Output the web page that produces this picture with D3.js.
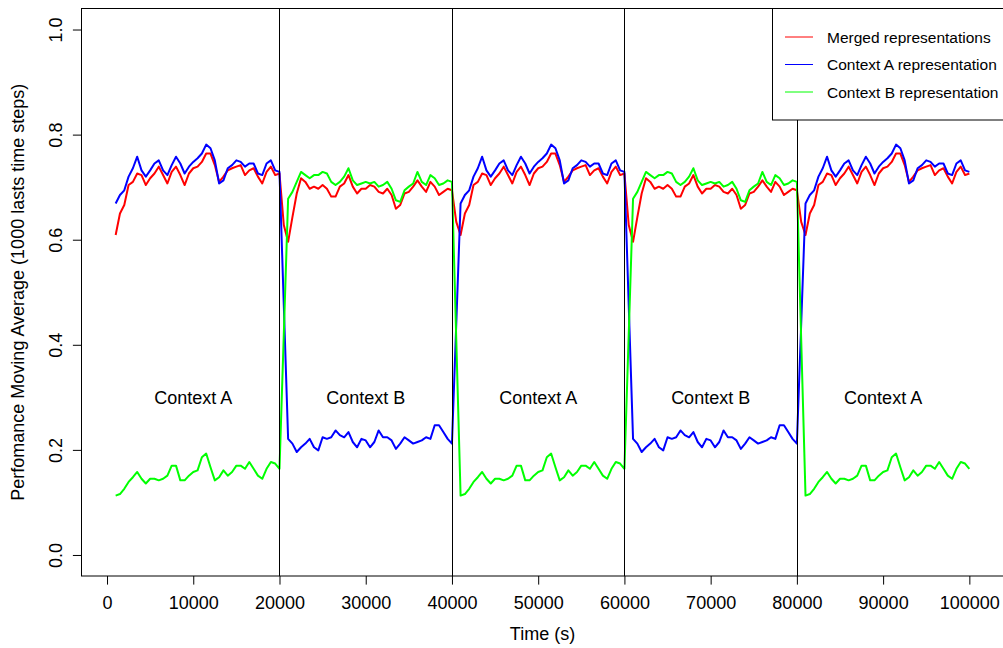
<!DOCTYPE html>
<html>
<head>
<meta charset="utf-8">
<script src="https://cdn.jsdelivr.net/npm/d3@7"></script>
<style>
  html, body { margin: 0; padding: 0; background: #fff; }
  svg { display: block; }
  text { font-family: "Liberation Sans", Arial, Helvetica, sans-serif; fill: #000; }
</style>
</head>
<body>
<svg id="chart" width="1003" height="648"></svg>
<script>
// ---------------- DATA ----------------
// Samples every 500 time steps. Segment arrays cover offsets 1000..20000 within a 20000-step context block.
const contextOrder = ["Context A", "Context B", "Context A", "Context B", "Context A"];
const contextStarts = [0, 20000, 40000, 60000, 80000];
const xTicks = [0, 10000, 20000, 30000, 40000, 50000, 60000, 70000, 80000, 90000, 100000];
const yTicks = [0.0, 0.2, 0.4, 0.6, 0.8, 1.0];
const seriesNames = ["Merged representations", "Context A representation", "Context B representation"];
const seriesColors = ["#ff0000", "#0000ff", "#00ff00"];

// Context A blocks
const mergedInA = [0.609,0.650,0.666,0.704,0.710,0.726,0.723,0.704,0.717,0.726,0.739,0.723,0.707,0.729,0.739,0.723,0.704,0.726,0.736,0.739,0.748,0.764,0.764,0.742,0.710,0.720,0.732,0.736,0.739,0.742,0.723,0.732,0.736,0.720,0.707,0.729,0.739,0.723,0.726];
const ctxAInA   = [0.669,0.685,0.694,0.720,0.736,0.758,0.732,0.720,0.732,0.745,0.751,0.732,0.723,0.742,0.758,0.745,0.726,0.739,0.748,0.755,0.764,0.781,0.774,0.751,0.707,0.713,0.736,0.742,0.751,0.748,0.739,0.745,0.745,0.726,0.723,0.745,0.751,0.732,0.729];
const ctxBInA   = [0.113,0.116,0.126,0.139,0.148,0.158,0.145,0.136,0.145,0.145,0.142,0.145,0.151,0.170,0.170,0.142,0.142,0.151,0.158,0.161,0.186,0.193,0.167,0.142,0.148,0.161,0.151,0.158,0.170,0.170,0.164,0.177,0.164,0.151,0.145,0.164,0.177,0.174,0.164];

// Context B blocks
const mergedInB = [0.596,0.643,0.688,0.717,0.710,0.697,0.701,0.697,0.704,0.697,0.682,0.682,0.701,0.707,0.723,0.701,0.688,0.697,0.697,0.704,0.701,0.691,0.688,0.697,0.685,0.659,0.666,0.688,0.691,0.701,0.713,0.701,0.691,0.710,0.701,0.685,0.691,0.697,0.694];
const ctxAInB   = [0.221,0.212,0.196,0.205,0.212,0.221,0.205,0.199,0.224,0.221,0.224,0.237,0.228,0.224,0.234,0.215,0.205,0.221,0.218,0.205,0.215,0.237,0.224,0.224,0.218,0.202,0.212,0.224,0.218,0.212,0.215,0.218,0.224,0.221,0.247,0.247,0.234,0.221,0.212];
const ctxBInB   = [0.678,0.691,0.710,0.729,0.723,0.717,0.723,0.723,0.729,0.726,0.710,0.704,0.710,0.720,0.736,0.713,0.704,0.707,0.710,0.707,0.710,0.701,0.704,0.710,0.697,0.675,0.672,0.694,0.701,0.707,0.729,0.710,0.704,0.723,0.717,0.704,0.707,0.713,0.710];

// values 500 steps after each context switch (at 20500, 40500, 60500, 80500)
const mergedSwitch = [0.628, 0.634, 0.628, 0.634];
const ctxASwitch   = [0.475, 0.440, 0.475, 0.440];
const ctxBSwitch   = [0.420, 0.410, 0.420, 0.410];

// --------------- BUILD SERIES ---------------
function buildSeries(inA, inB, sw) {
  const pts = [];
  contextOrder.forEach((ctx, k) => {
    const s = contextStarts[k];
    if (k > 0) pts.push([s + 500, sw[k - 1]]);
    const block = ctx === "Context A" ? inA : inB;
    block.forEach((v, i) => pts.push([s + 1000 + i * 500, v]));
  });
  return pts;
}
const series = [
  buildSeries(mergedInA, mergedInB, mergedSwitch),
  buildSeries(ctxAInA, ctxAInB, ctxASwitch),
  buildSeries(ctxBInA, ctxBInB, ctxBSwitch)
];

// --------------- DRAW ---------------
const svg = d3.select("#chart");
const L = 81.5, R = 1003.5, T = 8.5, B = 576;
const x = d3.scaleLinear().domain([-2960, 103960]).range([L, R]);
const y = d3.scaleLinear().domain([-0.04, 1.04]).range([B, T]);

// lines
const line = d3.line().x(d => x(d[0])).y(d => y(d[1]));
series.forEach((pts, i) => {
  svg.append("path")
    .datum(pts)
    .attr("d", line)
    .attr("fill", "none")
    .attr("stroke", seriesColors[i])
    .attr("stroke-width", 2)
    .attr("stroke-linejoin", "round");
});

// context switch lines
svg.selectAll("line.switch")
  .data(contextStarts.slice(1))
  .enter().append("line")
  .attr("class", "switch")
  .attr("x1", d => Math.round(x(d)) + 0.5).attr("x2", d => Math.round(x(d)) + 0.5)
  .attr("y1", T).attr("y2", B)
  .attr("stroke", "#000").attr("stroke-width", 1);

// context labels
svg.selectAll("text.ctx")
  .data(contextOrder)
  .enter().append("text")
  .attr("class", "ctx")
  .attr("x", (d, k) => x(contextStarts[k] + 10000))
  .attr("y", y(0.3) + 6.5)
  .attr("text-anchor", "middle")
  .attr("font-size", 18)
  .text(d => d);

// box
svg.append("rect")
  .attr("x", L).attr("y", T)
  .attr("width", R - L).attr("height", B - T)
  .attr("fill", "none").attr("stroke", "#000").attr("stroke-width", 1);

// x axis
const xAxis = d3.axisBottom(x).tickValues(xTicks).tickSize(8.6).tickFormat(d3.format("d"));
const gx = svg.append("g").attr("transform", `translate(0,${B})`).call(xAxis);
gx.select(".domain").remove();
gx.selectAll(".tick line").attr("stroke", "#000");
gx.selectAll(".tick text")
  .attr("y", 32.6).attr("dy", null)
  .attr("font-size", 18).attr("font-family", "Liberation Sans, Arial, sans-serif");

// y axis
const yAxis = d3.axisLeft(y).tickValues(yTicks).tickSize(8.6).tickFormat(d3.format(".1f"));
const gy = svg.append("g").attr("transform", `translate(${L},0)`).call(yAxis);
gy.select(".domain").remove();
gy.selectAll(".tick line").attr("stroke", "#000");
gy.selectAll(".tick text")
  .attr("x", 0).attr("y", 0).attr("dy", null)
  .attr("text-anchor", "middle")
  .attr("transform", "translate(-19.5,0) rotate(-90)")
  .attr("font-size", 18).attr("font-family", "Liberation Sans, Arial, sans-serif");

// axis titles
svg.append("text")
  .attr("x", (L + R) / 2).attr("y", 640)
  .attr("text-anchor", "middle").attr("font-size", 18)
  .text("Time (s)");
svg.append("text")
  .attr("transform", `translate(24,${(T + B) / 2}) rotate(-90)`)
  .attr("text-anchor", "middle").attr("font-size", 18)
  .text("Perfomance Moving Average (1000 lasts time steps)");

// legend
const lg = svg.append("g");
lg.append("rect")
  .attr("x", 772.5).attr("y", T).attr("width", 300).attr("height", 120 - T)
  .attr("fill", "#fff").attr("stroke", "#000").attr("stroke-width", 1);
const rowsY = [37, 64.5, 92];
seriesNames.forEach((name, i) => {
  lg.append("line")
    .attr("x1", 785).attr("x2", 813)
    .attr("y1", rowsY[i]).attr("y2", rowsY[i])
    .attr("stroke", seriesColors[i]).attr("stroke-width", 1);
  lg.append("text")
    .attr("x", 827).attr("y", rowsY[i] + 5.5)
    .attr("font-size", 15.5)
    .text(name);
});
</script>
</body>
</html>
